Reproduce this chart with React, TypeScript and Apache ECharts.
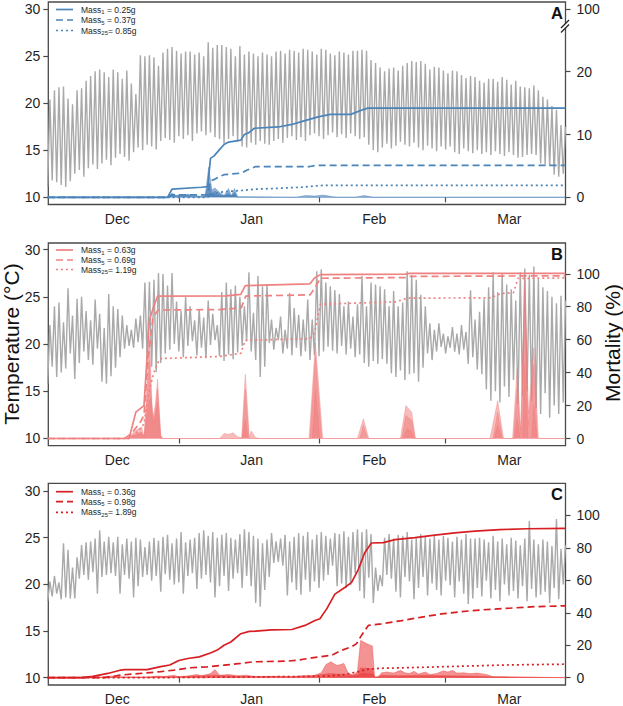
import React, { useEffect, useRef } from "react";
import * as echarts from "echarts";

// Days are counted from 1 December (day 0). Temperatures are given as daily max / min from day 2.
const FIRST_DAY = 2;
const X_MIN = 2.14;
const X_MAX = 116.5;
const monthStartDays = [31, 62, 90];
const monthLabelDays = [17.4, 47.1, 74.2, 104.1];
const monthNames = ["Dec", "Jan", "Feb", "Mar"];
const tempTicks = [10, 15, 20, 25, 30];
const mortTicksA = [0, 10, 20, 30]; // top tick sits above the axis break and reads 100
const mortTicksBC = [0, 20, 40, 60, 80, 100];

// ---------- Panel A ----------
const tempMaxA = [
  20.4, 21.4, 21.7, 21.8, 20.5, 19.9, 21.4, 21.6, 22.4, 22.9,
  23.4, 23.6, 23.3, 22.8, 23.6, 23.3, 22.6, 23.5, 22.1, 21.0,
  25.1, 25.0, 25.1, 24.9, 24.0, 25.4, 25.8, 26.0, 25.6, 25.3,
  25.5, 25.5, 25.2, 25.4, 25.0, 26.5, 25.9, 26.2, 26.2, 26.0,
  25.8, 25.0, 26.1, 25.2, 25.5, 25.3, 25.0, 25.4, 25.2, 25.0,
  25.5, 25.6, 25.3, 25.7, 25.6, 25.4, 25.8, 25.7, 25.5, 25.2,
  25.8, 25.7, 25.3, 25.1, 25.5, 25.4, 25.2, 25.6, 25.6, 25.7,
  25.6, 24.6, 24.3, 23.8, 23.4, 23.7, 23.8, 23.5, 24.0, 24.3,
  24.5, 24.4, 24.5, 24.2, 23.6, 23.9, 23.8, 23.5, 23.2, 23.5,
  23.4, 23.0, 22.7, 22.9, 22.8, 22.4, 22.2, 22.6, 22.6, 22.3,
  22.8, 22.5, 22.0, 22.4, 21.8, 21.7, 21.6, 21.9, 21.4, 20.7,
  20.4, 19.7, 19.3, 17.7, 17.5,
];
const tempMinA = [
  11.1, 11.8, 11.6, 11.3, 11.1, 11.7, 12.5, 12.9, 12.2, 13.1,
  13.5, 13.0, 13.6, 14.0, 13.4, 14.2, 14.6, 14.3, 13.9, 14.8,
  15.3, 15.0, 15.6, 15.4, 15.1, 16.0, 16.3, 16.1, 15.8, 16.5,
  16.2, 16.6, 16.0, 16.8, 17.0, 16.6, 16.9, 16.4, 16.2, 15.7,
  16.2, 16.5, 15.9, 15.4, 15.3, 15.8, 15.6, 16.0, 15.7, 15.6,
  16.0, 16.2, 15.8, 16.3, 16.5, 16.1, 16.4, 16.0, 16.6, 16.8,
  16.5, 16.2, 16.6, 16.9, 16.4, 16.7, 16.3, 16.8, 16.5, 16.2,
  16.4, 15.6, 15.0, 14.8, 15.3, 15.7, 15.2, 15.5, 15.9, 15.6,
  15.4, 15.8, 15.3, 15.0, 15.5, 15.2, 14.9, 15.4, 15.1, 15.4,
  14.8, 14.6, 15.2, 14.9, 14.7, 15.0, 14.6, 14.8, 14.5, 14.9,
  14.6, 14.4, 14.8, 14.5, 14.2, 14.3, 14.5, 14.6, 14.5, 13.6,
  13.5, 13.3, 12.4, 12.2, 12.5,
];
// cumulative mortality (%) as [day, value]
const cumA1 = [[2, 0], [28.5, 0], [29.5, 1.3], [36, 1.6], [37.4, 1.7], [38, 6.2], [38.8, 6.6], [40, 7.6], [41, 8.4], [42, 8.8], [44.7, 9.1], [45.5, 10.0], [46.5, 10.3], [47.7, 11.0], [53, 11.2], [56, 11.6], [58.3, 12.1], [61.8, 12.8], [64.5, 13.2], [69, 13.2], [71.5, 13.9], [72.8, 14.2], [116.5, 14.2]];
const cumA5 = [[2, 0], [28.5, 0], [29.5, 0.4], [37.4, 0.4], [38, 2.6], [39, 2.9], [40, 3.3], [41, 3.6], [44, 3.8], [45, 3.9], [46, 4.3], [47, 4.6], [48, 4.9], [60, 4.9], [61.5, 5.1], [116.5, 5.1]];
const cumA25 = [[2, 0], [37.4, 0], [38, 0.5], [40, 0.8], [43, 1.0], [45, 1.1], [48, 1.3], [52, 1.4], [58, 1.6], [61, 1.8], [63, 1.9], [116.5, 1.9]];
// daily mortality (%)
const dayA1 = [[2, 0], [28.5, 0], [29.5, 0.7], [30.5, 0.2], [31, 0.4], [32, 0.2], [33, 0.5], [34, 0.1], [36.8, 0.1], [37.6, 4.8], [38.3, 1.2], [39, 1.5], [40, 0.8], [41, 0.3], [42, 1.4], [42.6, 0.2], [43.3, 1.4], [44, 0.1], [57, 0], [59, 0.3], [61, 0.2], [63, 0.35], [65, 0.1], [66, 0], [70, 0], [72, 0.3], [74, 0], [116.5, 0]];
const dayA5 = [[2, 0], [28.5, 0], [29.5, 0.3], [31, 0.3], [33, 0.4], [36.8, 0.1], [37.6, 2.4], [38.4, 0.6], [39, 1.0], [40, 0.5], [41, 0.2], [42, 0.7], [42.6, 0.1], [43.3, 0.8], [44, 0], [116.5, 0]];
const dayA25 = [[2, 0], [37, 0], [37.8, 0.6], [39, 0.4], [40, 0.2], [42, 0.3], [43.3, 0.4], [44, 0], [116.5, 0]];

// ---------- Panel B ----------
const tempMaxB = [
  22.0, 24.0, 24.4, 22.3, 25.9, 23.0, 24.8, 25.0, 23.5, 22.5,
  24.7, 23.2, 21.7, 25.3, 24.0, 23.7, 23.0, 22.0, 21.5, 22.7,
  23.0, 26.5, 26.6, 26.8, 27.5, 27.4, 26.2, 27.5, 24.5, 23.5,
  25.0, 24.0, 22.5, 23.7, 22.8, 24.6, 23.2, 22.0, 25.5, 26.5,
  25.8, 26.2, 25.0, 24.0, 27.6, 23.3, 27.2, 26.1, 26.3, 22.6,
  21.7, 22.9, 21.5, 25.4, 23.8, 23.1, 22.6, 24.7, 22.6, 27.7,
  27.9, 26.5, 26.1, 25.7, 25.3, 24.0, 24.5, 22.9, 24.2, 27.2,
  24.0, 26.5, 26.3, 26.1, 25.8, 24.0, 25.6, 24.0, 24.4, 27.7,
  27.3, 26.8, 25.2, 24.0, 22.2, 21.5, 22.2, 21.1, 20.8, 21.8,
  21.1, 22.0, 21.3, 25.7, 22.6, 23.4, 24.8, 26.0, 27.6, 25.5,
  27.4, 26.3, 25.8, 24.6, 27.6, 28.0, 27.3, 28.2, 26.9, 26.0,
  25.6, 25.0, 24.3, 25.1, 24.6,
];
const tempMinB = [
  15.8, 17.6, 16.5, 17.0, 17.4, 19.0, 16.3, 18.0, 19.2, 18.3,
  17.8, 19.5, 16.0, 15.8, 16.6, 17.5, 18.6, 19.5, 19.8, 19.6,
  20.2, 19.5, 18.3, 17.6, 17.0, 18.0, 19.0, 19.4, 20.0, 19.2,
  18.6, 19.8, 20.3, 18.8, 19.6, 18.5, 19.9, 20.4, 18.7, 18.2,
  18.9, 18.4, 19.1, 19.8, 20.3, 19.2, 18.3, 16.5, 17.6, 20.1,
  19.4, 20.4, 19.0, 19.5, 18.8, 19.6, 18.7, 19.2, 18.3, 18.8,
  18.7, 19.2, 19.7, 19.3, 19.0, 19.8, 18.9, 19.5, 18.6, 18.9,
  18.0, 17.6, 18.2, 17.9, 18.4, 17.9, 16.9, 16.5, 17.2, 16.2,
  16.8, 16.9, 16.0, 17.5, 19.0, 18.3, 19.2, 19.7, 19.0, 19.6,
  19.2, 18.9, 19.4, 17.9, 18.6, 17.3, 16.8, 15.2, 14.0, 15.0,
  13.8, 15.5, 14.4, 16.2, 13.6, 14.5, 15.0, 14.0, 13.2, 12.6,
  14.8, 12.2, 13.5, 12.6, 13.8,
];
const cumB1 = [[2, 0], [20, 0], [21.5, 16], [23.3, 20], [24.5, 72], [25.3, 79], [26.3, 86.4], [41.5, 86.6], [44.7, 87.5], [45.7, 92.8], [60, 93.9], [61, 97.5], [62.3, 99.5], [81, 99.8], [82, 100.3], [116.5, 100.3]];
const cumB5 = [[2, 0], [19, 0], [20.5, 3], [22.5, 10], [23.3, 14], [24.2, 48], [25.3, 74], [26.5, 78], [40, 78.3], [44.8, 79.3], [45.8, 86.5], [60, 87.2], [61, 91], [62.3, 97.3], [81, 97.7], [82, 98.4], [116.5, 98.8]];
const cumB25 = [[2, 0], [20, 0], [21, 2], [22.5, 6], [23.3, 9], [24.5, 30], [25.7, 42], [26.8, 48.5], [40, 49.8], [44.7, 51.7], [45.7, 59.6], [60, 60.6], [61, 64], [62.3, 81.5], [79, 83], [81.5, 85.2], [100, 85.4], [102.2, 88], [105, 88.6], [106, 97.2], [116.5, 97.5]];
const dayB1 = [[2, 0], [19.5, 0], [21.5, 5], [22.8, 7], [23.3, 0.5], [23.6, 15], [24.5, 62], [25.2, 12], [25.8, 20], [26.3, 36], [27, 2], [27.5, 0], [40, 0], [41, 3], [42, 2.5], [43, 3.5], [44, 1], [44.9, 0.5], [45.7, 39], [46.6, 1], [47, 4.5], [48, 0.5], [49, 0], [59.8, 0], [61.2, 58], [62.8, 0.5], [63.2, 0], [70.5, 0], [71.8, 12], [73, 0], [80, 0], [81.2, 20], [82.5, 16], [83.3, 0], [99.8, 0], [101.5, 23], [102.8, 0], [104.8, 0], [105.8, 42], [106.6, 5], [107.5, 98], [108.3, 15], [109.5, 55], [110.5, 0], [116.5, 0]];
const dayB5 = [[2, 0], [19.5, 0], [21.5, 3], [22.8, 4], [23.3, 0.3], [23.7, 10], [24.5, 48], [25.2, 8], [25.8, 16], [26.3, 30], [27, 1], [27.5, 0], [45, 0], [45.7, 30], [46.5, 0], [60, 0], [61.2, 50], [62.6, 0], [71, 0], [71.8, 8], [72.7, 0], [80.3, 0], [81.2, 14], [82.5, 11], [83.3, 0], [100.5, 0], [101.5, 16], [102.6, 0], [105, 0], [105.8, 30], [106.6, 2], [107.5, 90], [108.3, 8], [109.5, 45], [110.3, 0], [116.5, 0]];
const dayB25 = [[2, 0], [20, 0], [22.5, 3], [23.3, 2], [24.2, 20], [24.8, 25], [25.5, 10], [26.3, 22], [27, 0], [45, 0], [45.7, 12], [46.3, 0], [60.5, 0], [61.2, 30], [62.2, 0], [80.5, 0], [81.5, 6], [82.5, 4], [83, 0], [100.7, 0], [101.5, 8], [102.4, 0], [105.2, 0], [105.8, 12], [106.5, 0], [107, 0], [107.5, 45], [108.2, 0], [109, 0], [109.5, 20], [110.2, 0], [116.5, 0]];

// ---------- Panel C ----------
const tempMaxC = [
  20.3, 20.9, 20.2, 24.4, 23.7, 21.8, 22.9, 24.2, 24.5, 24.6,
  24.9, 25.8, 24.6, 25.1, 24.5, 25.1, 24.3, 24.9, 24.6, 25.0,
  24.8, 24.0, 24.6, 25.0, 24.7, 25.1, 25.3, 24.4, 24.9, 25.6,
  24.5, 24.8, 25.0, 25.5, 25.8, 25.2, 25.6, 25.0, 25.3, 25.5,
  25.0, 24.8, 25.4, 25.9, 25.6, 25.2, 24.9, 24.4, 24.8, 25.5,
  24.6, 24.9, 25.3, 24.6, 25.1, 25.5, 25.2, 25.6, 24.8, 25.3,
  25.6, 25.2, 24.9, 25.5, 25.4, 25.7, 25.1, 25.6, 25.9, 25.6,
  25.9, 25.4, 21.8, 21.0, 25.0, 25.4, 24.9, 25.3, 25.2, 25.6,
  24.8, 25.0, 25.4, 25.1, 24.9, 25.3, 24.8, 25.2, 25.0, 24.6,
  25.1, 24.8, 25.4, 24.9, 24.9, 25.0, 24.8, 24.5, 25.2, 24.6,
  24.9, 24.3, 25.0, 24.7, 24.2, 24.9, 26.8, 24.8, 24.3, 24.8,
  24.6, 24.1, 27.0, 23.8, 24.2,
];
const tempMinC = [
  18.2, 18.7, 19.0, 18.4, 18.6, 18.5, 18.5, 20.6, 21.0, 20.5,
  21.3, 19.0, 20.8, 21.0, 21.2, 20.9, 19.0, 21.0, 20.6, 18.6,
  19.8, 20.8, 21.0, 20.4, 20.9, 19.2, 21.1, 20.5, 20.0, 20.2,
  19.0, 20.9, 21.2, 19.5, 20.6, 21.0, 20.2, 18.6, 19.8, 20.9,
  19.3, 20.6, 21.2, 19.6, 20.9, 19.8, 18.0, 17.6, 19.4, 20.8,
  22.3, 22.4, 22.0, 18.8, 20.2, 19.4, 18.9, 20.5, 19.2, 20.3,
  19.6, 20.4, 21.0, 22.0, 19.8, 20.1, 19.6, 19.9, 21.2, 19.3,
  18.5, 20.7, 18.0, 19.3, 19.8, 21.0, 20.6, 19.2, 18.6, 20.8,
  20.3, 18.4, 19.6, 20.8, 18.8, 20.1, 19.4, 18.8, 20.4, 19.9,
  18.6, 20.3, 19.0, 17.9, 18.5, 19.6, 18.7, 20.4, 18.5, 19.4,
  18.2, 20.0, 18.8, 19.3, 18.5, 19.8, 18.2, 19.5, 18.6, 18.9,
  19.2, 18.0, 19.6, 18.4, 20.0,
];
const cumC1 = [[2, 0], [9.5, 0], [12, 0.8], [15.3, 2.6], [18.2, 4.7], [19, 4.9], [24, 5.0], [27, 6.8], [29, 7.8], [31, 10.6], [33, 11.8], [35.5, 12.8], [38, 15.2], [39.5, 17], [41, 20], [42.5, 22], [44.7, 27.1], [46.6, 28.5], [48, 28.7], [51.5, 29.5], [56, 29.7], [58.9, 32.2], [61.1, 35.2], [62.2, 36.3], [63.7, 42.4], [65.5, 51.5], [67.7, 55.6], [69.2, 58.7], [70.7, 66.8], [72.1, 77], [73.6, 83], [76.2, 83.2], [78.8, 85.1], [83.2, 86.3], [87.6, 87.8], [92, 89.3], [96.5, 90.3], [102, 91.3], [108, 91.8], [116.5, 92.0]];
const cumC5 = [[2, 0], [14.5, 0], [18.2, 1.6], [22.5, 2.6], [27, 3.7], [30, 4.7], [33.6, 6.1], [37.3, 6.7], [41, 7.7], [44.7, 8.8], [47.6, 9.8], [55, 10.2], [57.4, 10.8], [60.4, 12.2], [64.8, 13.8], [67, 16.9], [69.2, 19], [70.3, 21], [71.4, 26.1], [72.9, 32.2], [75.8, 33.2], [80.3, 35.2], [84.7, 37.3], [89.1, 39.3], [93.5, 40.7], [98, 41.8], [104, 42.8], [110, 43.8], [116.5, 44.3]];
const cumC25 = [[2, 0], [25, 0], [45, 0.4], [62, 0.8], [67, 1.6], [70.7, 3.7], [72.9, 5.3], [76, 5.8], [82, 6.2], [89, 6.7], [96.5, 7.3], [105, 7.9], [116.5, 8.3]];
const dayC1 = [[2, 0], [9, 0], [12, 0.8], [14, 0.4], [16, 1.0], [18, 0.6], [20, 0.3], [24, 0.2], [26, 1.0], [28, 0.8], [30, 1.5], [31, 0.5], [33, 1.0], [35, 2.0], [36, 1.2], [38, 2.5], [39, 5.1], [40, 1.5], [42, 2.0], [44, 1.2], [46, 1.5], [48, 0.6], [52, 0.8], [56, 0.4], [58, 1.2], [61, 1.5], [62.5, 3.0], [63.5, 8.0], [64.6, 9.8], [66, 7.5], [67.5, 8.8], [68.5, 2.5], [69.5, 1.2], [70.5, 4], [71.2, 23], [72.5, 21], [73.8, 19.5], [74.3, 0.5], [75, 0], [75.8, 3.0], [77, 3.5], [78.5, 2.8], [80, 4.5], [81, 3.0], [82, 2.5], [83, 4.0], [84, 2.2], [85.5, 3.5], [86.5, 2.0], [88, 2.6], [89.5, 4.2], [90.5, 3.5], [91.5, 4.5], [92.5, 2.8], [94, 3.0], [95.5, 2.5], [97, 2.8], [99, 2.0], [100.5, 0.6], [103, 0.5], [106, 0.3], [110, 0.2], [116.5, 0]];
const dayC5 = [[2, 0], [14, 0], [20, 0.4], [30, 0.6], [39, 1.5], [45, 0.8], [60, 0.8], [64, 2.5], [68, 2], [70.5, 2.0], [71.2, 6.0], [73.8, 5.5], [74.3, 0.3], [76, 1.5], [80, 1.2], [85, 1.5], [90, 1.2], [95, 1.0], [100, 0.6], [108, 0.3], [116.5, 0]];
const dayC25 = [[2, 0], [62, 0], [66, 0.6], [70.5, 1.2], [71.5, 2.5], [73.8, 2.2], [74.3, 0.2], [80, 0.5], [90, 0.6], [100, 0.3], [116.5, 0]];

const legendA = ["0.25g", "0.37g", "0.85g"];
const legendB = ["0.63g", "0.69g", "1.19g"];
const legendC = ["0.36g", "0.98g", "1.89g"];
const massIndex = ["1", "5", "25"];

const FONT = "'Liberation Sans', Arial, Helvetica, sans-serif";
const INK = "#1f1f1f";
const FRAME = "#4a4a4a";
const GRID_LEFT = 48.3;
const GRID_RIGHT = 57.5;

const panels = [
  {
    letter: "A", top: 2, height: 202.5, tRange: [9.234, 30.78], mRange: [-1.146, 31.1], mTicks: mortTicksA,
    tMax: tempMaxA, tMin: tempMinA, cum: [cumA1, cumA5, cumA25], daily: [dayA1, dayA5, dayA25], legend: legendA,
    line: "#4a84b9", fill: "#3f79b2", fillOpacity: 0.55, legendRows: [9.5, 20, 30.5], letterY: 13,
  },
  {
    letter: "B", top: 243, height: 202.7, tRange: [9.238, 30.69], mRange: [-4.37, 118.7], mTicks: mortTicksBC,
    tMax: tempMaxB, tMin: tempMinB, cum: [cumB1, cumB5, cumB25], daily: [dayB1, dayB5, dayB25], legend: legendB,
    line: "#ef8181", fill: "#f07a7a", fillOpacity: 0.5, legendRows: [250, 260, 269.5], letterY: 254,
  },
  {
    letter: "C", top: 483.3, height: 203.4, tRange: [9.214, 30.83], mRange: [-4.52, 119.8], mTicks: mortTicksBC,
    tMax: tempMaxC, tMin: tempMinC, cum: [cumC1, cumC5, cumC25], daily: [dayC1, dayC5, dayC25], legend: legendC,
    line: "#d71f23", fill: "#ea3b3b", fillOpacity: 0.55, legendRows: [491.7, 501.7, 512.3], letterY: 494,
  },
];

const dashStyles: any[] = ["solid", [7, 4], [2, 3]];

function tempPoints(maxs: number[], mins: number[]) {
  const pts: number[][] = [];
  for (let i = 0; i < maxs.length; i++) {
    const d = FIRST_DAY + i;
    pts.push([d, mins[i]]);
    pts.push([d + 0.5, maxs[i]]);
  }
  return pts;
}

function buildOption() {
  const grid: any[] = [];
  const xAxis: any[] = [];
  const yAxis: any[] = [];
  const series: any[] = [];
  const graphic: any[] = [];

  panels.forEach((p, i) => {
    grid.push({
      left: GRID_LEFT, right: GRID_RIGHT, top: p.top, height: p.height,
      show: true, borderColor: FRAME, borderWidth: 1.3, backgroundColor: "transparent",
    });
    xAxis.push({
      type: "value", gridIndex: i, min: X_MIN, max: X_MAX,
      axisLine: { show: false }, splitLine: { show: false },
      axisTick: { show: true, customValues: monthStartDays, length: 5, lineStyle: { color: FRAME, width: 1.2 } },
      axisLabel: {
        customValues: monthLabelDays, margin: 7, fontSize: 14, color: INK, fontFamily: FONT,
        formatter: (v: number) => monthNames[monthLabelDays.indexOf(v)] ?? "",
      },
    });
    yAxis.push({
      type: "value", gridIndex: i, position: "left", min: p.tRange[0], max: p.tRange[1],
      axisLine: { show: false }, splitLine: { show: false },
      axisTick: { show: true, customValues: tempTicks, length: 5, lineStyle: { color: FRAME, width: 1.2 } },
      axisLabel: { customValues: tempTicks, margin: 8, fontSize: 14, color: INK, fontFamily: FONT },
    });
    yAxis.push({
      type: "value", gridIndex: i, position: "right", min: p.mRange[0], max: p.mRange[1],
      axisLine: { show: false }, splitLine: { show: false },
      axisTick: { show: true, customValues: p.mTicks, length: 5, lineStyle: { color: FRAME, width: 1.2 } },
      axisLabel: {
        customValues: p.mTicks, margin: 11, fontSize: 14, color: INK, fontFamily: FONT,
        formatter: (v: number) => (p.letter === "A" && v === 30 ? "100" : String(v)),
      },
    });

    series.push({
      type: "line", xAxisIndex: i, yAxisIndex: 2 * i, data: tempPoints(p.tMax, p.tMin),
      symbol: "none", silent: true, z: 1,
      lineStyle: { color: "#a9a9a9", width: 1.4 },
    });
    p.daily.forEach((d) => {
      series.push({
        type: "line", xAxisIndex: i, yAxisIndex: 2 * i + 1, data: d,
        symbol: "none", silent: true, z: 2,
        lineStyle: { color: p.fill, width: 0.6, opacity: 0.6 },
        areaStyle: { color: p.fill, opacity: p.fillOpacity },
      });
    });
    p.cum.forEach((d, j) => {
      series.push({
        type: "line", xAxisIndex: i, yAxisIndex: 2 * i + 1, data: d,
        symbol: "none", silent: true, z: 3,
        lineStyle: { color: p.line, width: 1.7, type: dashStyles[j] },
      });
    });

    // legend in the top-left corner of each panel
    p.legendRows.forEach((y, j) => {
      graphic.push({
        type: "line", silent: true, z: 10,
        shape: { x1: 56, y1: y, x2: 73, y2: y },
        style: { stroke: p.line, lineWidth: 1.7, lineDash: j === 0 ? null : dashStyles[j] },
      });
      const eq = massIndex[j] === "25" ? "= " : " = ";
      graphic.push({
        type: "text", silent: true, z: 10, x: 81, y,
        style: {
          text: `Mass{s|${massIndex[j]}}${eq}${p.legend[j]}`,
          fontSize: 8.5, fontFamily: FONT, fill: INK, verticalAlign: "middle", lineHeight: 11,
          rich: { s: { fontSize: 6, fontFamily: FONT, fill: INK, verticalAlign: "bottom", lineHeight: 7 } },
        },
      });
    });

    graphic.push({
      type: "text", silent: true, z: 10, x: 557, y: p.letterY,
      style: { text: p.letter, fontSize: 16.5, fontWeight: "bold", fontFamily: FONT, fill: "#111", align: "center", verticalAlign: "middle" },
    });
  });

  // axis break on the right axis of panel A
  graphic.push({
    type: "polygon", silent: true, z: 11,
    shape: { points: [[561.5, 27.5], [569.5, 19.5], [569.5, 24.5], [561.5, 32.5]] },
    style: { fill: "#ffffff" },
  });
  graphic.push({ type: "line", silent: true, z: 12, shape: { x1: 561, y1: 28, x2: 569, y2: 20 }, style: { stroke: "#222", lineWidth: 1.3 } });
  graphic.push({ type: "line", silent: true, z: 12, shape: { x1: 561, y1: 32.5, x2: 569, y2: 24.5 }, style: { stroke: "#222", lineWidth: 1.3 } });

  // axis titles
  graphic.push({
    type: "text", silent: true, z: 10, x: 11, y: 344, rotation: Math.PI / 2,
    style: { text: "Temperature (°C)", fontSize: 21, fontFamily: FONT, fill: "#111", align: "center", verticalAlign: "middle" },
  });
  graphic.push({
    type: "text", silent: true, z: 10, x: 612, y: 343, rotation: Math.PI / 2,
    style: { text: "Mortality (%)", fontSize: 21, fontFamily: FONT, fill: "#111", align: "center", verticalAlign: "middle" },
  });

  return { animation: false, backgroundColor: "#ffffff", grid, xAxis, yAxis, series, graphic };
}

export default function App() {
  const ref = useRef<HTMLDivElement>(null);
  useEffect(() => {
    if (!ref.current) return;
    const chart = echarts.init(ref.current, undefined, { renderer: "svg" });
    chart.setOption(buildOption() as any);
    return () => chart.dispose();
  }, []);
  return <div ref={ref} style={{ position: "absolute", left: 0, top: 0, width: 623, height: 706 }} />;
}
